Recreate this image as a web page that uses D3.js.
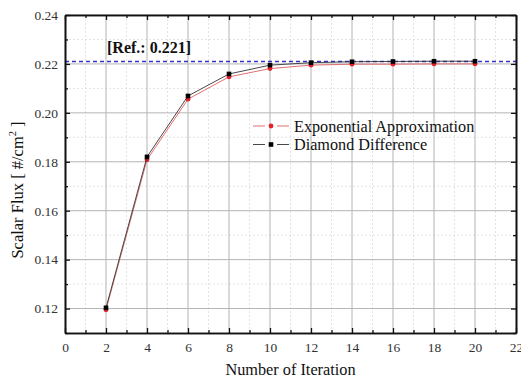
<!DOCTYPE html>
<html>
<head>
<meta charset="utf-8">
<script src="https://cdn.jsdelivr.net/npm/d3@7"></script>
<style>
  body { margin: 0; background: #fff; }
</style>
</head>
<body>
<svg id="chart" width="521" height="379"></svg>
<script>
// iterations (x)
const iterations = [2, 4, 6, 8, 10, 12, 14, 16, 18, 20];
// scalar flux, exponential approximation (red circles)
const expApprox = [0.1195, 0.1808, 0.2056, 0.2147, 0.2181, 0.2195, 0.2199, 0.2199, 0.2200, 0.2200];
// scalar flux, diamond difference (black squares)
const diamondDiff = [0.1203, 0.1820, 0.2069, 0.2159, 0.2195, 0.2205, 0.2209, 0.2210, 0.2211, 0.2211];
const refValue = 0.221;

const xTicks = [0, 2, 4, 6, 8, 10, 12, 14, 16, 18, 20, 22];
const yTicks = [0.12, 0.14, 0.16, 0.18, 0.20, 0.22, 0.24];
const xMinor = [1, 3, 5, 7, 9, 11, 13, 15, 17, 19, 21];
const yMinor = [0.11, 0.13, 0.15, 0.17, 0.19, 0.21, 0.23];

const FONT = "'Liberation Serif', 'Times New Roman', 'DejaVu Serif', serif";
const margin = {left: 65, right: 5, top: 15, bottom: 46};
const width = 521, height = 379;
const svg = d3.select("#chart");

const x = d3.scaleLinear().domain([0, 22]).range([margin.left, width - margin.right]);
const y = d3.scaleLinear().domain([0.11, 0.24]).range([height - margin.bottom, margin.top]);

const x0 = x.range()[0], x1 = x.range()[1];
const y0 = y.range()[0], y1 = y.range()[1];

// grid
const grid = svg.append("g");
grid.selectAll(".gxm").data(xMinor).enter().append("line")
  .attr("x1", d => x(d)).attr("x2", d => x(d)).attr("y1", y0).attr("y2", y1)
  .attr("stroke", "#dcdcdc").attr("stroke-dasharray", "2,2").attr("stroke-width", 0.8);
grid.selectAll(".gym").data(yMinor).enter().append("line")
  .attr("y1", d => y(d)).attr("y2", d => y(d)).attr("x1", x0).attr("x2", x1)
  .attr("stroke", "#dcdcdc").attr("stroke-dasharray", "2,2").attr("stroke-width", 0.8);
grid.selectAll(".gx").data(xTicks.slice(1, -1)).enter().append("line")
  .attr("x1", d => x(d)).attr("x2", d => x(d)).attr("y1", y0).attr("y2", y1)
  .attr("stroke", "#b4b4b4").attr("stroke-width", 1);
grid.selectAll(".gy").data(yTicks).enter().append("line")
  .attr("y1", d => y(d)).attr("y2", d => y(d)).attr("x1", x0).attr("x2", x1)
  .attr("stroke", "#b4b4b4").attr("stroke-width", 1);

// reference line
svg.append("line")
  .attr("x1", x0).attr("x2", x1).attr("y1", y(refValue)).attr("y2", y(refValue))
  .attr("stroke", "#3333cc").attr("stroke-width", 1.3).attr("stroke-dasharray", "4,3");
svg.append("text")
  .attr("x", x(2) + 1).attr("y", y(refValue) - 8)
  .style("font-family", FONT).style("font-size", "16px").style("font-weight", "bold")
  .attr("fill", "#111")
  .text("[Ref.: 0.221]");

// axes (ticks inward on all four sides)
svg.append("g").attr("transform", `translate(0,${y0})`)
  .call(d3.axisBottom(x).tickValues(xTicks).tickSize(-5).tickSizeOuter(0).tickPadding(9).tickFormat(d3.format("d")));
svg.append("g").attr("transform", `translate(0,${y1})`)
  .call(d3.axisTop(x).tickValues(xTicks).tickSize(-5).tickSizeOuter(0).tickFormat(""));
svg.append("g").attr("transform", `translate(${x0},0)`)
  .call(d3.axisLeft(y).tickValues(yTicks).tickSize(-5).tickSizeOuter(0).tickPadding(7).tickFormat(d3.format(".2f")));
svg.append("g").attr("transform", `translate(${x1},0)`)
  .call(d3.axisRight(y).tickValues(yTicks).tickSize(-5).tickSizeOuter(0).tickFormat(""));
svg.append("g").attr("transform", `translate(0,${y0})`)
  .call(d3.axisBottom(x).tickValues(xMinor).tickSize(-3).tickSizeOuter(0).tickFormat(""));
svg.append("g").attr("transform", `translate(0,${y1})`)
  .call(d3.axisTop(x).tickValues(xMinor).tickSize(-3).tickSizeOuter(0).tickFormat(""));
svg.append("g").attr("transform", `translate(${x0},0)`)
  .call(d3.axisLeft(y).tickValues(yMinor).tickSize(-3).tickSizeOuter(0).tickFormat(""));
svg.append("g").attr("transform", `translate(${x1},0)`)
  .call(d3.axisRight(y).tickValues(yMinor).tickSize(-3).tickSizeOuter(0).tickFormat(""));

svg.selectAll(".domain").attr("stroke", "#111").attr("stroke-width", 1.6);
svg.selectAll(".tick line").attr("stroke", "#111").attr("stroke-width", 1.3);
svg.selectAll(".tick text").attr("fill", "#333")
  .style("font-family", FONT).style("font-size", "13.5px");

// series
const series = [
  {name: "Exponential Approximation", values: expApprox, color: "#e8202a", line: "#e06060", shape: "circle"},
  {name: "Diamond Difference", values: diamondDiff, color: "#000", line: "#333", shape: "square"}
];
const lineGen = d3.line().x(d => x(d[0])).y(d => y(d[1]));

function drawMarkers(g, coords, s) {
  if (s.shape === "circle") {
    g.selectAll(null).data(coords).enter().append("circle")
      .attr("cx", d => d[0]).attr("cy", d => d[1]).attr("r", 2.4).attr("fill", s.color);
  } else {
    g.selectAll(null).data(coords).enter().append("rect")
      .attr("x", d => d[0] - 2.3).attr("y", d => d[1] - 2.3)
      .attr("width", 4.6).attr("height", 4.6).attr("fill", s.color);
  }
}

series.forEach(s => {
  const pts = iterations.map((it, i) => [it, s.values[i]]);
  svg.append("path").datum(pts)
    .attr("d", lineGen).attr("fill", "none")
    .attr("stroke", s.line).attr("stroke-width", 0.9);
  drawMarkers(svg, pts.map(p => [x(p[0]), y(p[1])]), s);
});

// legend: line – marker – line, with gaps round the marker
const legend = svg.append("g");
series.forEach((s, i) => {
  const ly = 126 + i * 18.5;
  [[253, 265], [277, 289]].forEach(seg => {
    legend.append("line").attr("x1", seg[0]).attr("x2", seg[1]).attr("y1", ly).attr("y2", ly)
      .attr("stroke", s.line).attr("stroke-width", 0.9);
  });
  drawMarkers(legend, [[271, ly]], s);
  legend.append("text").attr("x", 294).attr("y", ly + 5.5)
    .style("font-family", FONT).style("font-size", "16.2px")
    .attr("fill", "#111").text(s.name);
});

// axis titles
svg.append("text")
  .attr("x", (x0 + x1) / 2).attr("y", 375)
  .attr("text-anchor", "middle").attr("fill", "#111")
  .style("font-family", FONT).style("font-size", "16.3px")
  .text("Number of Iteration");

const yt = svg.append("text")
  .attr("transform", `translate(23,190) rotate(-90)`)
  .attr("text-anchor", "middle").attr("fill", "#111")
  .style("font-family", FONT).style("font-size", "16.5px");
yt.append("tspan").text("Scalar Flux [ #/cm");
yt.append("tspan").attr("dy", -7).style("font-size", "10.5px").text("2");
yt.append("tspan").attr("dy", 7).text(" ]");
</script>
</body>
</html>
